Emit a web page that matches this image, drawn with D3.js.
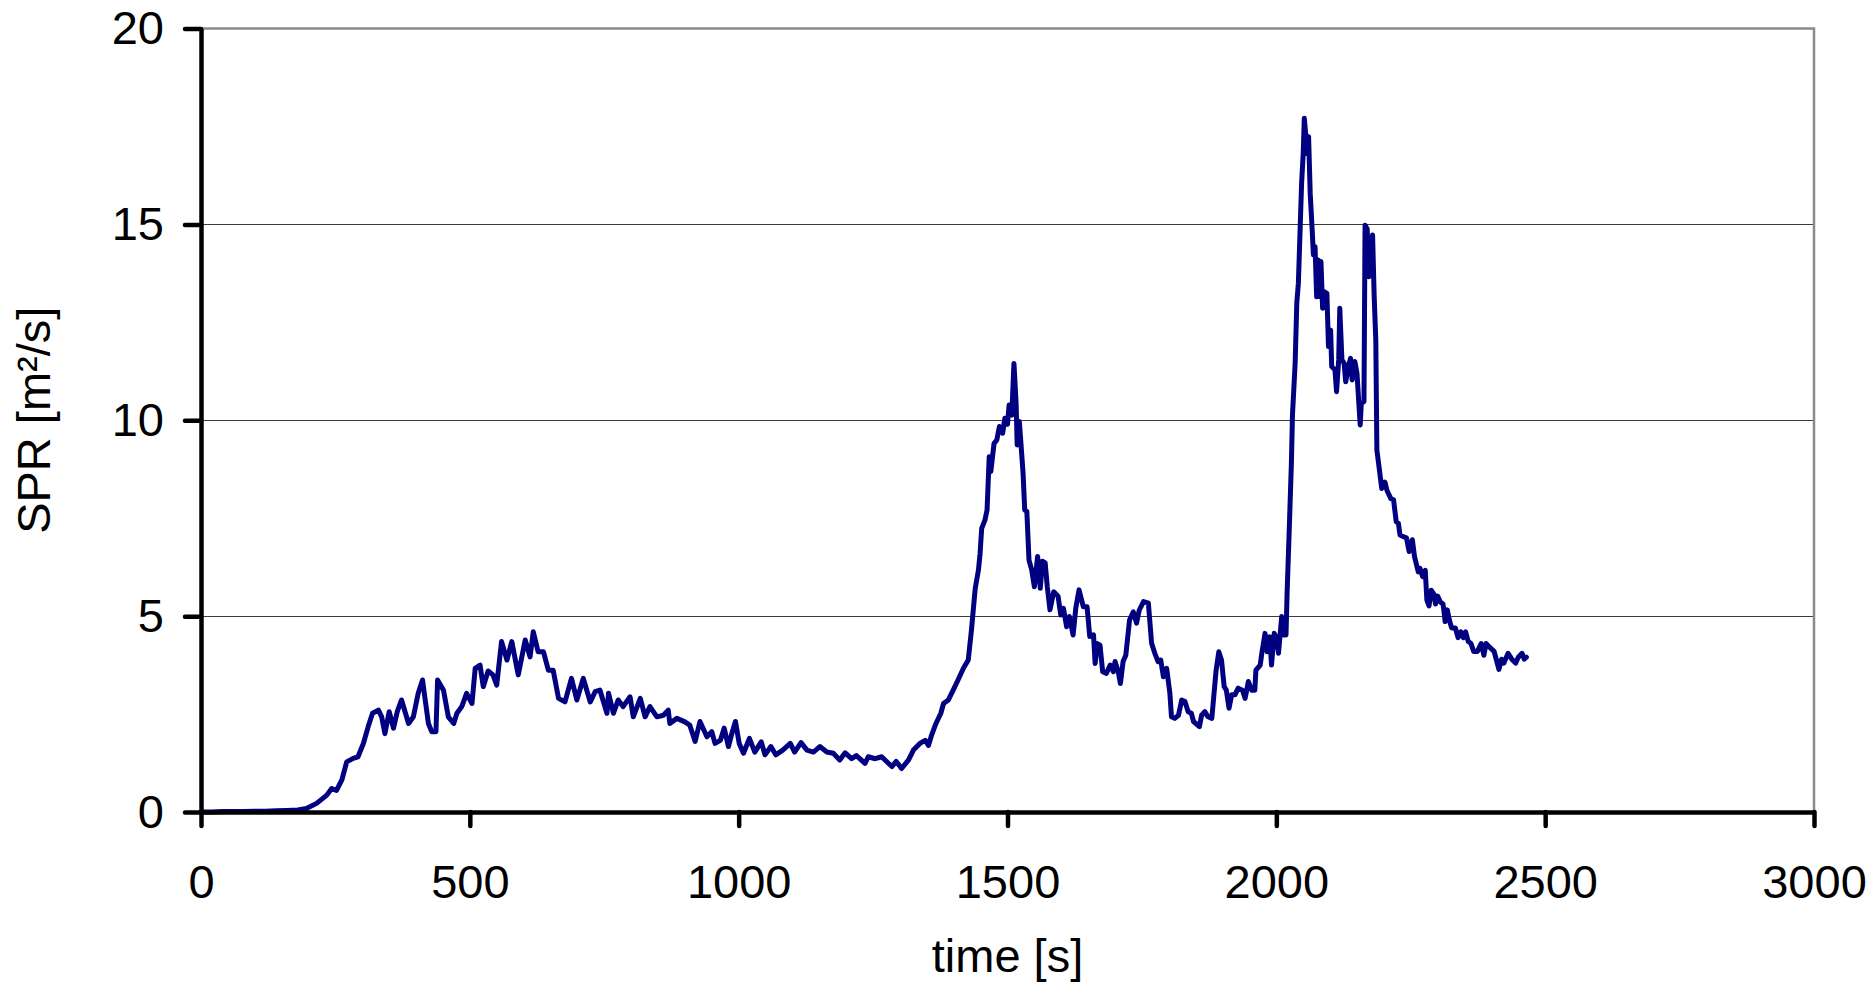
<!DOCTYPE html>
<html>
<head>
<meta charset="utf-8">
<script src="https://cdn.jsdelivr.net/npm/d3@7"></script>
<style>
  html, body { margin: 0; padding: 0; background: #fff; }
  svg { display: block; }
  text { font-family: "Liberation Sans", Arial, sans-serif; fill: #000; }
</style>
</head>
<body>
<svg id="chart" width="1875" height="985"></svg>
<script>
// Measured time series: SPR over time
const timeSec = [
  0, 20, 40, 60, 80, 100, 120, 140, 160, 180, 196, 215, 234, 243, 252, 262, 271, 283, 292, 302,
  311, 319, 330, 336, 342, 350, 358, 365, 373, 386, 395, 404, 412, 417, 423, 429, 437, 440, 451, 460,
  470, 476, 485, 494, 504, 510, 519, 525, 534, 543, 550, 559, 569, 578, 590, 603, 612, 618, 627, 637,
  646, 655, 665, 677, 689, 699, 711, 724, 733, 742, 755, 758, 767, 776, 785, 798, 804, 817, 826, 835,
  848, 860, 869, 872, 885, 900, 909, 919, 928, 941, 950, 956, 966, 973, 981, 987, 994, 1001, 1009, 1020,
  1030, 1042, 1049, 1060, 1069, 1082, 1096, 1104, 1116, 1127, 1139, 1151, 1164, 1176, 1188, 1198, 1210, 1219, 1235, 1241,
  1254, 1266, 1275, 1285, 1293, 1303, 1316, 1325, 1337, 1347, 1353, 1359, 1367, 1376, 1381, 1390, 1399, 1408, 1418, 1427,
  1433, 1440, 1446, 1449, 1452, 1458, 1462, 1466, 1469, 1475, 1480, 1485, 1491, 1495, 1500, 1503, 1508, 1512, 1516, 1518,
  1522, 1525, 1529, 1532, 1536, 1540, 1545, 1550, 1556, 1561, 1565, 1570, 1574, 1579, 1586, 1594, 1599, 1604, 1610, 1615,
  1622, 1627, 1633, 1641, 1648, 1653, 1660, 1663, 1667, 1672, 1677, 1684, 1691, 1697, 1700, 1706, 1710, 1715, 1720, 1727,
  1734, 1740, 1745, 1753, 1762, 1768, 1774, 1780, 1785, 1790, 1796, 1802, 1805, 1811, 1818, 1824, 1830, 1836, 1842, 1846,
  1857, 1861, 1867, 1873, 1880, 1888, 1893, 1898, 1903, 1907, 1912, 1917, 1923, 1929, 1937, 1942, 1948, 1954, 1960, 1962,
  1970, 1973, 1979, 1983, 1988, 1991, 1996, 2001, 2004, 2010, 2014, 2018, 2020, 2024, 2028, 2030, 2035, 2038, 2041, 2044,
  2047, 2050, 2052, 2055, 2056, 2060, 2063, 2066, 2069, 2072, 2075, 2078, 2081, 2083, 2086, 2089, 2094, 2097, 2101, 2103,
  2109, 2112, 2116, 2118, 2122, 2126, 2129, 2134, 2138, 2141, 2146, 2150, 2156, 2158, 2163, 2165, 2169, 2172, 2176, 2179,
  2182, 2185, 2187, 2192, 2196, 2202, 2206, 2213, 2218, 2223, 2227, 2230, 2236, 2242, 2247, 2253, 2257, 2264, 2267, 2272,
  2277, 2280, 2284, 2288, 2293, 2296, 2300, 2305, 2310, 2312, 2314, 2318, 2322, 2326, 2333, 2338, 2343, 2348, 2352, 2357,
  2362, 2367, 2374, 2381, 2386, 2390, 2397, 2405, 2409, 2414, 2419, 2423, 2431, 2438, 2445, 2450, 2457, 2461, 2465
];
const sprValues = [
  0, 0, 0.01, 0.01, 0.01, 0.02, 0.02, 0.03, 0.04, 0.05, 0.09, 0.22, 0.43, 0.60, 0.55, 0.82, 1.28, 1.37, 1.41, 1.75,
  2.18, 2.52, 2.60, 2.43, 2.00, 2.56, 2.14, 2.56, 2.86, 2.26, 2.43, 3.03, 3.37, 2.86, 2.26, 2.05, 2.05, 3.37, 3.11, 2.43,
  2.26, 2.52, 2.69, 3.03, 2.77, 3.67, 3.75, 3.20, 3.60, 3.50, 3.24, 4.35, 3.88, 4.35, 3.50, 4.39, 3.96, 4.60, 4.09, 4.09,
  3.62, 3.62, 2.90, 2.81, 3.41, 2.86, 3.41, 2.81, 3.07, 3.11, 2.52, 3.03, 2.52, 2.86, 2.69, 2.94, 2.43, 2.90, 2.43, 2.69,
  2.43, 2.47, 2.60, 2.26, 2.39, 2.30, 2.22, 1.80, 2.31, 1.92, 2.05, 1.75, 1.83, 2.14, 1.67, 1.99, 2.31, 1.75, 1.50, 1.88,
  1.53, 1.79, 1.46, 1.67, 1.46, 1.58, 1.75, 1.53, 1.77, 1.58, 1.53, 1.67, 1.53, 1.50, 1.33, 1.51, 1.36, 1.44, 1.24, 1.41,
  1.36, 1.41, 1.29, 1.16, 1.29, 1.11, 1.33, 1.58, 1.75, 1.83, 1.70, 1.97, 2.26, 2.52, 2.77, 2.86, 3.11, 3.37, 3.67, 3.88,
  4.65, 5.71, 6.18, 6.60, 7.24, 7.45, 7.71, 9.07, 8.69, 9.41, 9.49, 9.84, 9.67, 10.05, 9.90, 10.39, 10.13, 11.45, 10.44, 9.37,
  9.97, 9.41, 8.64, 7.71, 7.67, 6.43, 6.18, 5.75, 6.52, 5.71, 6.40, 6.36, 5.75, 5.16, 5.62, 5.51, 5.03, 5.20, 4.73, 4.99,
  4.52, 5.20, 5.67, 5.24, 5.24, 4.48, 4.52, 3.79, 4.30, 4.26, 3.58, 3.54, 3.75, 3.58, 3.84, 3.58, 3.28, 3.84, 4.00, 4.90,
  5.11, 4.82, 5.15, 5.37, 5.33, 4.31, 4.05, 3.84, 3.88, 3.45, 3.67, 3.03, 2.43, 2.39, 2.47, 2.86, 2.82, 2.56, 2.52, 2.31,
  2.18, 2.47, 2.56, 2.43, 2.39, 3.62, 4.09, 3.88, 3.20, 3.11, 2.65, 2.99, 2.99, 3.16, 3.11, 2.90, 3.33, 3.11, 3.11, 3.62,
  3.75, 4.05, 4.56, 4.09, 4.47, 3.75, 4.56, 4.43, 4.05, 4.99, 4.52, 4.52, 5.58, 7.20, 8.90, 10.13, 11.45, 12.98, 13.50, 14.77,
  16.05, 16.81, 17.71, 17.24, 16.81, 17.24, 15.79, 15.03, 14.22, 14.43, 13.15, 14.09, 13.15, 14.05, 12.86, 13.28, 13.24, 11.88, 12.30, 11.37,
  11.29, 10.73, 11.54, 12.86, 11.54, 11.46, 10.98, 11.37, 11.58, 11.03, 11.50, 11.20, 9.88, 10.43, 10.48, 14.98, 14.88, 13.66, 14.09, 14.73,
  13.15, 12.05, 9.24, 8.70, 8.26, 8.42, 8.20, 8.00, 7.97, 7.41, 7.37, 7.07, 7.03, 7.00, 6.65, 6.95, 6.52, 6.13, 6.22, 6.01,
  6.17, 5.41, 5.26, 5.66, 5.56, 5.31, 5.51, 5.36, 5.31, 5.10, 4.86, 5.16, 4.89, 4.70, 4.70, 4.45, 4.60, 4.45, 4.60, 4.35,
  4.30, 4.10, 4.10, 4.30, 4.00, 4.30, 4.20, 4.10, 3.90, 3.64, 3.90, 3.80, 4.05, 3.90, 3.80, 3.95, 4.05, 3.90, 3.95
];

const xTicks = [0, 500, 1000, 1500, 2000, 2500, 3000];
const yTicks = [0, 5, 10, 15, 20];
const gridValues = [5, 10, 15];
const xTitle = "time [s]";
const yTitle = "SPR [m²/s]";

const series = timeSec.map((t, i) => ({ t, v: sprValues[i] }));

const plotLeft = 201, plotRight = 1814, plotTop = 28.5, plotBottom = 812;
const fontSize = 47;

const svg = d3.select("#chart");

const x = d3.scaleLinear().domain([0, 3000]).range([plotLeft, plotRight]);
const y = d3.scaleLinear().domain([0, 20]).range([plotBottom, plotTop]);

// horizontal gridlines
svg.append("g")
  .selectAll("line")
  .data(gridValues)
  .join("line")
  .attr("x1", plotLeft).attr("x2", plotRight)
  .attr("y1", d => Math.round(y(d)) + 0.5).attr("y2", d => Math.round(y(d)) + 0.5)
  .attr("stroke", "#3c3c3c")
  .attr("stroke-width", 1.2);

// plot area frame (top and right sides)
svg.append("path")
  .attr("d", `M${plotLeft},${y(20)}H${plotRight}V${plotBottom}`)
  .attr("fill", "none")
  .attr("stroke", "#8a8a8a")
  .attr("stroke-width", 2.5);

// data line
const line = d3.line().x(d => x(d.t)).y(d => y(d.v));
svg.append("path")
  .datum(series)
  .attr("d", line)
  .attr("fill", "none")
  .attr("stroke", "#000080")
  .attr("stroke-width", 5)
  .attr("stroke-linejoin", "round")
  .attr("stroke-linecap", "round");

// y axis
const yAxis = svg.append("g")
  .attr("transform", `translate(${plotLeft},0)`)
  .call(d3.axisLeft(y).tickValues(yTicks).tickSize(16).tickSizeOuter(0).tickPadding(21).tickFormat(d3.format("d")));

// x axis
const xAxis = svg.append("g")
  .attr("transform", `translate(0,${plotBottom})`)
  .call(d3.axisBottom(x).tickValues(xTicks).tickSize(14).tickSizeOuter(0).tickPadding(39).tickFormat(d3.format("d")));

[yAxis, xAxis].forEach(g => {
  g.select(".domain").attr("stroke", "#000").attr("stroke-width", 4.5);
  g.selectAll(".tick line").attr("stroke", "#000").attr("stroke-width", 4.5).attr("stroke-linecap", "round");
  g.selectAll(".tick text")
    .attr("font-family", "'Liberation Sans', Arial, sans-serif")
    .attr("font-size", fontSize)
    .attr("fill", "#000");
});

// axis titles
svg.append("text")
  .attr("x", (plotLeft + plotRight) / 2)
  .attr("y", 972)
  .attr("text-anchor", "middle")
  .attr("font-size", fontSize)
  .text(xTitle);

svg.append("text")
  .attr("transform", `translate(50,${(plotTop + plotBottom) / 2}) rotate(-90)`)
  .attr("text-anchor", "middle")
  .attr("font-size", fontSize)
  .text(yTitle);
</script>
</body>
</html>
